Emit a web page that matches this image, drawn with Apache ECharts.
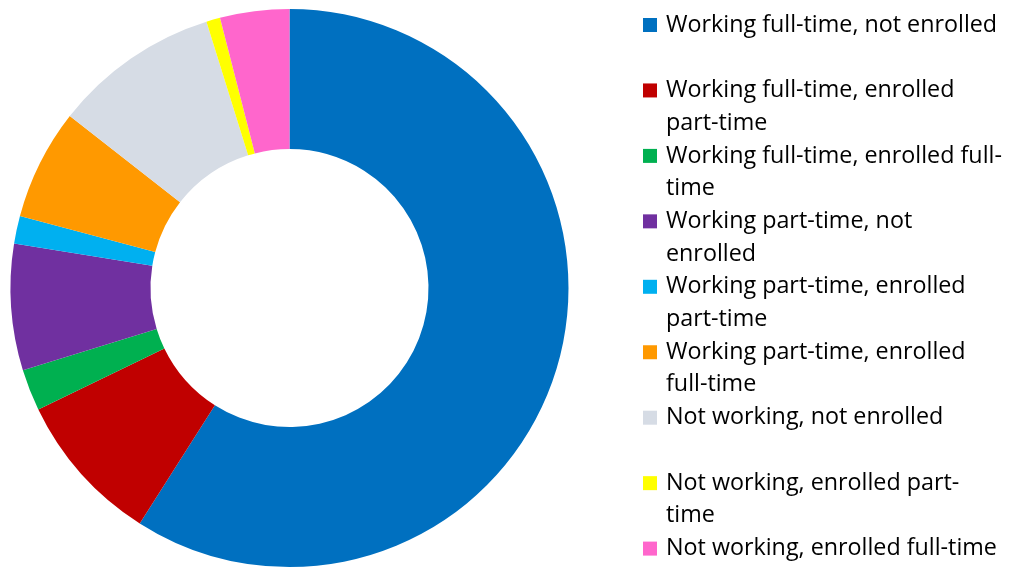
<!DOCTYPE html>
<html><head><meta charset="utf-8">
<script src="https://cdn.jsdelivr.net/npm/echarts@6/dist/echarts.min.js"></script>
<style>html,body{margin:0;padding:0;background:#fff}#c{width:1011px;height:569px}</style>
</head><body><div id="c"></div>
<script>
const categories = [
  'Working full-time, not enrolled',
  'Working full-time, enrolled part-time',
  'Working full-time, enrolled full-time',
  'Working part-time, not enrolled',
  'Working part-time, enrolled part-time',
  'Working part-time, enrolled full-time',
  'Not working, not enrolled',
  'Not working, enrolled part-time',
  'Not working, enrolled full-time'
];
const values = [58.9, 8.8, 2.4, 7.3, 1.6, 6.4, 9.6, 0.8, 4.0];
const colors = ['#0070C0','#C00000','#00B050','#7030A0','#00B0F0','#FF9900','#D6DCE5','#FFFF00','#FF66CC'];
const legendLines = [
  ['Working full-time, not enrolled'],
  ['Working full-time, enrolled', 'part-time'],
  ['Working full-time, enrolled full-', 'time'],
  ['Working part-time, not', 'enrolled'],
  ['Working part-time, enrolled', 'part-time'],
  ['Working part-time, enrolled', 'full-time'],
  ['Not working, not enrolled'],
  ['Not working, enrolled part-', 'time'],
  ['Not working, enrolled full-time']
];

const LH = 32.6, FS = 23.3, FIRST = 25, STEP = 65.45;
const legends = categories.map((name, i) => {
  const c = FIRST + STEP * i;
  const two = legendLines[i].length > 1;
  return {
    show: true, orient: 'vertical', left: 643, top: c - (two ? 1.5 : 0.5) * LH,
    padding: 0, itemWidth: 14, itemHeight: 14, icon: 'rect', selectedMode: false,
    data: [name],
    formatter: () => (two ? '\n' : '') + legendLines[i].join('\n'),
    textStyle: { fontFamily: 'Open Sans', fontSize: FS, color: '#000', lineHeight: LH,
      padding: [0, 0, 0, 4] }
  };
});

const chart = echarts.init(document.getElementById('c'), null, { renderer: 'canvas' });
chart.setOption({
  animation: false,
  color: colors,
  legend: legends,
  series: [{
    type: 'pie',
    center: [289.5, 288],
    radius: [139, 279],
    startAngle: 90,
    clockwise: true,
    avoidLabelOverlap: false,
    label: { show: false },
    labelLine: { show: false },
    emphasis: { disabled: true },
    itemStyle: { borderWidth: 0 },
    data: categories.map((n, i) => ({ name: n, value: values[i] }))
  }]
});
</script></body></html>
